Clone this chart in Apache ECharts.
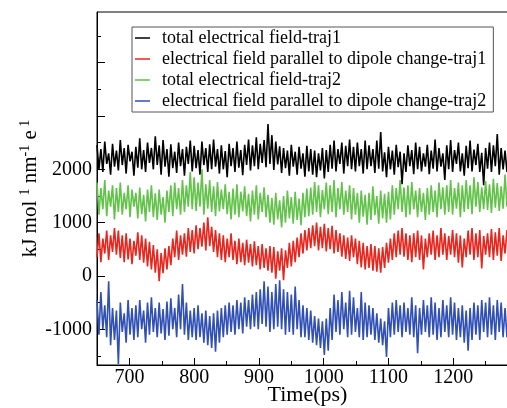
<!DOCTYPE html>
<html><head><meta charset="utf-8">
<script src="https://cdn.jsdelivr.net/npm/echarts@6/dist/echarts.min.js"></script>
<style>html,body{margin:0;padding:0;background:#fff}#c{width:507px;height:408px}</style>
</head><body><div id="c"></div>
<script>
// time axis: samples every 3 ps starting at 650 ps
var T0 = 650, DT = 3;
var seriesNames = [
  'total electrical field-traj1',
  'electrical field parallel to dipole change-traj1',
  'total electrical field-traj2',
  'electrical field parallel to dipole change-traj2'
];
var blackVals = [
 2450,2000,2380,1950,2520,2100,2300,1900,2480,2050,
 2350,1980,2550,2080,2400,1920,2460,2150,2330,1880,
 2420,2030,2580,2000,2360,1950,2500,2120,2400,2000,
 2620,2080,2450,1900,2550,2050,2380,1860,2470,2020,
 2330,1930,2500,2060,2380,1880,2420,2100,2540,1960,
 2440,2020,2360,1900,2520,2080,2400,1950,2470,2000,
 2560,2050,2380,1920,2450,2000,2340,1850,2480,2060,
 2400,1950,2520,2030,2360,1890,2460,2080,2560,1980,
 2450,2060,2600,2000,2480,2120,2550,2040,2850,2100,
 2640,1990,2520,2090,2430,1930,2400,2020,2350,1880,
 2460,2050,2330,1900,2420,2010,2300,1860,2440,1960,
 2380,1900,2350,1850,2300,1980,2400,1830,2360,1950,
 2460,2010,2540,1960,2380,2100,2500,1920,2440,2060,
 2560,2000,2420,1960,2500,2060,2380,1920,2540,2000,
 2450,2060,2380,1930,2540,2010,2700,1960,2320,1850,
 2420,2000,2350,1900,2460,2040,2330,1720,2300,1950,
 2450,2060,2360,1910,2500,2000,2420,1960,2300,2050,
 2460,1910,2350,2010,2560,1960,2400,2050,2300,1800,
 2450,2000,2550,1950,2360,2100,2500,1960,2300,1880,
 2440,2020,2540,1960,2370,2080,2480,1950,2310,1700,
 2400,2010,2500,1950,2450,2060,2660,1900,2400,2000,
 2350,1950,2460,2050,2520,1980,2440];
var redVals = [
 350,800,260,700,420,850,300,760,450,900,
 400,850,340,760,260,800,310,700,220,660,
 380,820,300,760,250,700,180,640,120,580,
 60,500,-100,430,50,520,120,560,200,700,
 350,850,300,760,400,800,360,900,450,860,
 420,950,500,900,550,1000,480,1100,560,920,
 450,860,350,800,300,760,260,700,350,800,
 300,660,220,700,260,620,200,680,250,600,
 180,650,200,560,120,600,150,520,100,560,
 60,540,-50,460,100,520,-80,480,150,620,
 180,660,260,720,350,800,420,860,480,900,
 520,950,560,1000,480,920,520,980,460,900,
 500,940,420,860,450,800,360,760,320,720,
 280,760,350,700,220,660,160,620,120,560,
 150,600,100,560,80,520,60,540,150,620,
 250,700,300,800,350,850,400,900,360,800,
 300,760,260,800,350,850,300,760,120,700,
 350,800,400,850,300,760,350,900,400,800,
 300,750,400,860,350,800,250,760,160,700,
 350,850,400,900,300,800,350,860,140,750,
 400,800,350,880,300,820,380,900,280,760,
 420,860,350,800,300,780,420];
var greenVals = [
 1750,1150,1650,1250,1800,1120,1600,1300,1700,1060,
 1650,1200,1750,1150,1560,1250,1700,1100,1620,1300,
 1560,1080,1660,1160,1520,1020,1620,1200,1700,1100,
 1550,1050,1620,1150,1480,1000,1600,1200,1700,1120,
 1750,1250,1650,1150,1800,1200,1700,1300,1950,1250,
 1850,1220,1750,1300,2000,1150,1720,1260,1800,1200,
 1680,1120,1760,1210,1620,1250,1720,1160,1580,1060,
 1640,1150,1720,1100,1580,1210,1680,1120,1540,1020,
 1600,1150,1700,1060,1560,1200,1660,1100,1520,1000,
 1460,960,1560,1060,1420,910,1500,1000,1600,1080,
 1480,980,1580,1050,1450,950,1560,1100,1640,1120,
 1660,1150,1760,1200,1700,1100,1610,1250,1750,1160,
 1700,1200,1800,1100,1650,1250,1760,1150,1600,1200,
 1700,1060,1650,1150,1560,1000,1600,1110,1520,960,
 1560,1050,1680,1140,1500,980,1600,1080,1540,1000,
 1580,1060,1700,1150,1650,1250,1800,1200,1660,1100,
 1700,1150,1760,1250,1600,1100,1650,1200,1560,1050,
 1650,1150,1700,1200,1600,1100,1750,1250,1660,1150,
 1700,1200,1800,1150,1650,1260,1750,1100,1700,1200,
 1800,1250,1700,1160,1850,1300,1760,1200,1660,1250,
 1780,1240,1720,1180,1820,1280,1740,1220,1680,1260,
 1900,1300,1750,1200,1820,1260,1700];
var blueVals = [
 -450,-1100,-300,-1000,-550,-1150,-100,-1300,-600,-1200,
 -650,-1650,-500,-1050,-700,-1250,-450,-1100,-600,-1200,
 -550,-1150,-450,-1000,-650,-1250,-500,-1100,-400,-1050,
 -600,-1150,-500,-1080,-620,-1200,-480,-1120,-420,-1000,
 -600,-1150,-350,-1000,-150,-1100,-500,-1200,-650,-1150,
 -600,-1200,-550,-1150,-700,-1250,-650,-1300,-750,-1350,
 -700,-1420,-650,-1250,-600,-1150,-550,-1100,-500,-1050,
 -550,-1100,-450,-1000,-500,-1080,-400,-950,-450,-1000,
 -350,-950,-300,-1000,-250,-900,-100,-950,-200,-1050,
 -300,-1000,-150,-950,-80,-1000,-250,-1100,-300,-1050,
 -350,-1100,-200,-1000,-450,-1150,-550,-1150,-600,-1200,
 -650,-1250,-750,-1300,-800,-1350,-850,-1480,-800,-1400,
 -600,-1200,-350,-1050,-450,-1100,-300,-1000,-500,-1150,
 -280,-1100,-400,-1050,-600,-1150,-300,-1200,-500,-1150,
 -550,-1100,-600,-1200,-700,-1250,-800,-1300,-850,-1520,
 -600,-1150,-500,-1100,-450,-1050,-550,-1150,-500,-1050,
 -600,-1100,-400,-1150,-550,-1450,-600,-1100,-450,-1050,
 -550,-1150,-400,-1100,-500,-1200,-600,-1150,-450,-1050,
 -550,-1150,-400,-1100,-500,-1200,-600,-1150,-550,-1250,
 -650,-1400,-600,-1200,-500,-1100,-550,-1200,-450,-1050,
 -500,-1150,-400,-1100,-550,-1200,-450,-1050,-500,-1150,
 -600,-1150,-500,-1100,-450,-1200,-550];
var xMajorTicks = [700,800,900,1000,1100,1200,1300];
var xMinorTicks = [650,750,850,950,1050,1150,1250];
var xLabelValues = [700,800,900,1000,1100,1200];
var yMajorTicks = [-1000,0,1000,2000,3000,4000];
var yMinorTicks = [-1500,-500,500,1500,2500,3500,4500];
var yLabelValues = [-1000,0,1000,2000];

function pairs(vals){ return vals.map(function(v,i){ return [T0 + DT*i, v]; }); }
var colors = ['#000000','#e8261e','#62c24a','#3050b4'];
var allVals = [blackVals, redVals, greenVals, blueVals];
var FONT = '"Liberation Serif","DejaVu Serif",serif';
function plain(v){ return String(v); }

var chart = echarts.init(document.getElementById('c'), null, {renderer:'canvas'});
chart.setOption({
  animation:false,
  backgroundColor:'#fff',
  grid:{left:97, top:12, right:-11, bottom:43, show:true, borderColor:'#000', borderWidth:1,
        backgroundColor:'transparent', containLabel:false, outerBoundsMode:'none'},
  legend:{
    orient:'vertical', left:132, top:27,
    data:seriesNames,
    icon:'rect', itemWidth:15, itemHeight:1.5, itemGap:3,
    padding:[2,7,2,3],
    borderColor:'#555', borderWidth:1, backgroundColor:'#fff',
    textStyle:{fontFamily:FONT, fontSize:18, color:'#000', lineHeight:18, padding:[0,0,0,7]}
  },
  xAxis:[{
    type:'value', min:650, max:1300, position:'bottom',
    axisLine:{show:true, onZero:false, lineStyle:{color:'#000', width:1}},
    axisTick:{show:true, inside:true, length:7, customValues:xMajorTicks, lineStyle:{color:'#000'}},
    axisLabel:{show:true, customValues:xLabelValues, formatter:plain, fontFamily:FONT, fontSize:20, color:'#000', margin:3},
    splitLine:{show:false},
    name:'Time(ps)', nameLocation:'middle', nameGap:19, nameMoveOverlap:false,
    nameTextStyle:{fontFamily:FONT, fontSize:22, color:'#000'}
  },{
    type:'value', min:650, max:1300, position:'bottom', offset:0,
    axisLine:{show:false, onZero:false},
    axisTick:{show:true, inside:true, length:4, customValues:xMinorTicks, lineStyle:{color:'#000'}},
    axisLabel:{show:false}, splitLine:{show:false}
  }],
  yAxis:[{
    type:'value', min:-1670, max:4950, position:'left',
    axisLine:{show:true, onZero:false, lineStyle:{color:'#000', width:1}},
    axisTick:{show:true, inside:true, length:8, customValues:yMajorTicks, lineStyle:{color:'#000'}},
    axisLabel:{show:true, customValues:yLabelValues, formatter:plain, fontFamily:FONT, fontSize:20, color:'#000', margin:5},
    splitLine:{show:false},
    name:'{b|kJ mol }{s|1}{b| nm}{s|-1}{b| e}{s| 1}',
    nameLocation:'middle', nameRotate:90, nameGap:55, nameMoveOverlap:false,
    nameTextStyle:{fontFamily:FONT, fontSize:21, color:'#000',
      rich:{b:{fontFamily:FONT, fontSize:21, color:'#000'},
            s:{fontFamily:FONT, fontSize:14, color:'#000', padding:[0,0,10,0]}}}
  },{
    type:'value', min:-1670, max:4950, position:'left', offset:0,
    axisLine:{show:false, onZero:false},
    axisTick:{show:true, inside:true, length:4, customValues:yMinorTicks, lineStyle:{color:'#000'}},
    axisLabel:{show:false}, splitLine:{show:false}
  }],
  series: seriesNames.map(function(n,k){
    return {name:n, type:'line', xAxisIndex:0, yAxisIndex:0, data:pairs(allVals[k]),
      showSymbol:false, symbol:'none', lineStyle:{width:1.6, color:colors[k]}, itemStyle:{color:colors[k]}, z:2+k};
  })
});
</script></body></html>
